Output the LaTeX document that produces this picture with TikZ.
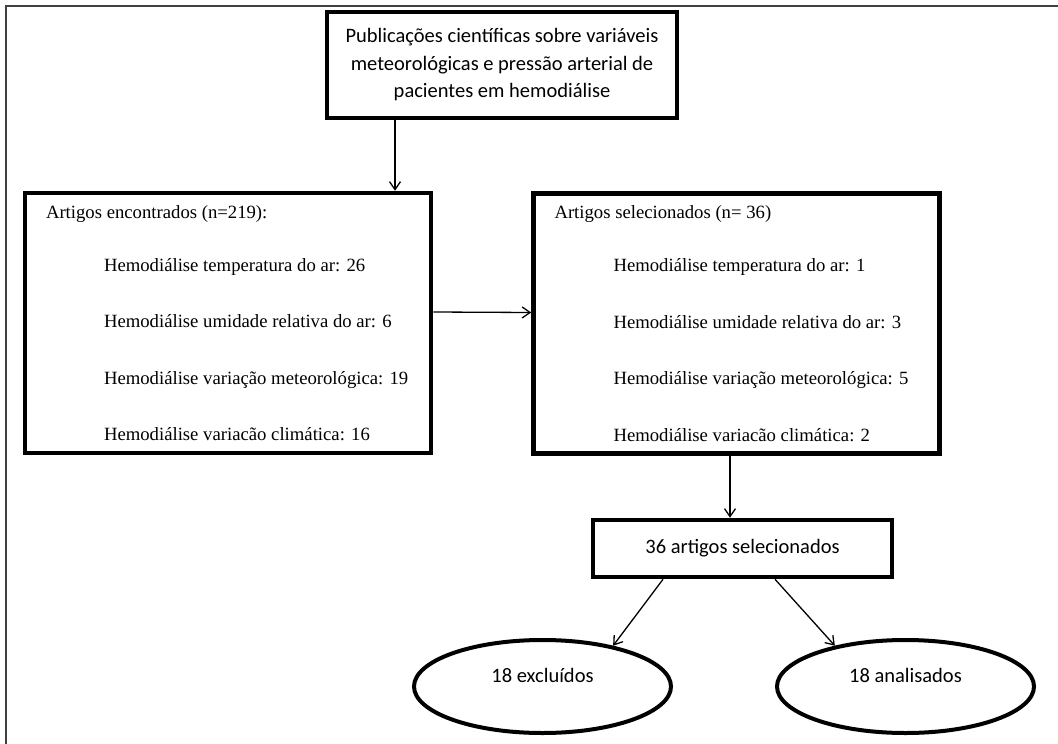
\documentclass[tikz,border=0pt]{standalone}
\usepackage{fontspec}
\setmainfont{Liberation Serif}
\newfontfamily\calib{Carlito}
\usetikzlibrary{calc}
\usetikzlibrary{arrows.meta}
\usetikzlibrary{shapes.geometric}

\tikzset{
 frm/.style={draw, line width=4.5pt, inner sep=0pt},
 lst/.style={frm, minimum width=406pt, minimum height=260pt, inner xsep=21pt, text width=364pt, align=flush left, font=\fontsize{18.7}{22}\selectfont},
 oval/.style={draw, ellipse, line width=4pt, inner sep=0pt, minimum width=257pt, minimum height=93pt, text depth=22pt, font=\calib\fontsize{20.5}{24}\selectfont},
 arr/.style={-{Straight Barb[length=8pt,width=11pt]}, line width=1.3pt}
}

\begin{document}
\begin{tikzpicture}[x=1pt, y=-1pt]

\useasboundingbox (0,0) rectangle (1058,744);
\draw[black!75, line width=2.2pt] (6,744) -- (6,6) -- (1058,6);

\node[frm, minimum width=350pt, minimum height=106pt, align=center, font=\calib\fontsize{20.5}{27.5}\selectfont] (top) at (502,65)
 {Publicações científicas sobre variáveis\\meteorológicas e pressão arterial de\\pacientes em hemodiálise};

\node[lst] (found) at (228,323) {Artigos encontrados (n=219):\\[31pt]
 \hspace*{58pt}Hemodiálise temperatura do ar: 26\\[34.5pt]
 \hspace*{58pt}Hemodiálise umidade relativa do ar: 6\\[34.5pt]
 \hspace*{58pt}Hemodiálise variação meteorológica: 19\\[34.5pt]
 \hspace*{58pt}Hemodiálise variacão climática: 16};

\node[lst] (selected) at (736.5,323.5) {Artigos selecionados (n= 36)\\[31pt]
 \hspace*{59pt}Hemodiálise temperatura do ar: 1\\[34.5pt]
 \hspace*{59pt}Hemodiálise umidade relativa do ar: 3\\[34.5pt]
 \hspace*{59pt}Hemodiálise variação meteorológica: 5\\[34.5pt]
 \hspace*{59pt}Hemodiálise variacão climática: 2};

\node[frm, minimum width=299pt, minimum height=57pt, font=\calib\fontsize{20.5}{24}\selectfont] (sel36) at (742.5,548.5) {36 artigos selecionados};

\node[oval] (excl) at (542.5,686.5) {18 excluídos};
\node[oval] (anal) at (905.5,686.5) {18 analisados};

\draw[arr] (top.south -| 395,0) -- (found.north -| 395,0);
\draw[arr] ([yshift=11pt]found.east) -- ([yshift=11pt]selected.west);
\draw[arr] (selected.south -| 730,0) -- (sel36.north -| 730,0);
\draw[arr] (sel36.south -| 663,0) -- (excl.30);
\draw[arr] (sel36.south -| 775,0) -- (anal.150);

\end{tikzpicture}
\end{document}
